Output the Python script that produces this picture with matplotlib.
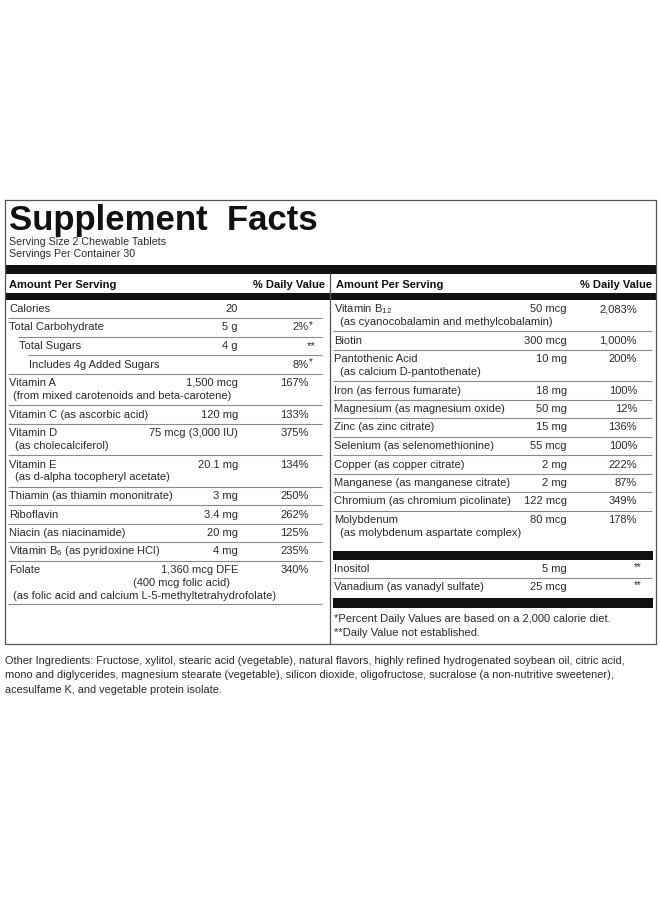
import matplotlib
matplotlib.use('Agg')
import matplotlib.pyplot as plt
from matplotlib import font_manager

names = {f.name for f in font_manager.fontManager.ttflist}
body = 'Liberation Sans Narrow' if 'Liberation Sans Narrow' in names else 'Liberation Sans'
plt.rcParams['font.family'] = [body, 'DejaVu Sans']
plt.rcParams['mathtext.fontset'] = 'custom'
plt.rcParams['mathtext.rm'] = body
plt.rcParams['mathtext.it'] = body

TXT = '#2b2b2b'
GRID = '#8a8a8a'
FS = 8.0

# ---- data ----
serving = ["Serving Size 2 Chewable Tablets", "Servings Per Container 30"]

left_names = ["Calories", "Total Carbohydrate", "Total Sugars", "Includes 4g Added Sugars",
              "Vitamin A", "Vitamin C (as ascorbic acid)", "Vitamin D", "Vitamin E",
              "Thiamin (as thiamin mononitrate)", "Riboflavin", "Niacin (as niacinamide)",
              "Vitamin B$_6$ (as pyridoxine HCl)", "Folate"]
left_amounts = ["20", "5 g", "4 g", "", "1,500 mcg", "120 mg", "75 mcg (3,000 IU)", "20.1 mg",
                "3 mg", "3.4 mg", "20 mg", "4 mg", "1,360 mcg DFE"]
left_dv = ["", "2%*", "**", "8%*", "167%", "133%", "375%", "134%", "250%", "262%", "125%", "235%", "340%"]
left_indent = [0, 0, 1, 2, 0, 0, 0, 0, 0, 0, 0, 0, 0]
left_sub = [[], [], [], [], ["(from mixed carotenoids and beta-carotene)"], [],
            ["(as cholecalciferol)"], ["(as d-alpha tocopheryl acetate)"], [], [], [], [],
            ["(400 mcg folic acid)", "(as folic acid and calcium L-5-methyltetrahydrofolate)"]]

right_names = ["Vitamin B$_{12}$", "Biotin", "Pantothenic Acid", "Iron (as ferrous fumarate)",
               "Magnesium (as magnesium oxide)", "Zinc (as zinc citrate)",
               "Selenium (as selenomethionine)", "Copper (as copper citrate)",
               "Manganese (as manganese citrate)", "Chromium (as chromium picolinate)",
               "Molybdenum"]
right_amounts = ["50 mcg", "300 mcg", "10 mg", "18 mg", "50 mg", "15 mg", "55 mcg", "2 mg",
                 "2 mg", "122 mcg", "80 mcg"]
right_dv = ["2,083%", "1,000%", "200%", "100%", "12%", "136%", "100%", "222%", "87%", "349%", "178%"]
right_sub = [["(as cyanocobalamin and methylcobalamin)"], [], ["(as calcium D-pantothenate)"],
             [], [], [], [], [], [], [], ["(as molybdenum aspartate complex)"]]

other_names = ["Inositol", "Vanadium (as vanadyl sulfate)"]
other_amounts = ["5 mg", "25 mcg"]
other_dv = ["**", "**"]

footnotes = ["*Percent Daily Values are based on a 2,000 calorie diet.", "**Daily Value not established."]
ingredients = [
    "Other Ingredients: Fructose, xylitol, stearic acid (vegetable), natural flavors, highly refined hydrogenated soybean oil, citric acid,",
    "mono and diglycerides, magnesium stearate (vegetable), silicon dioxide, oligofructose, sucralose (a non-nutritive sweetener),",
    "acesulfame K, and vegetable protein isolate.",
]

# ---- layout ----
fig = plt.figure(figsize=(6.6, 9), dpi=100)
ax = fig.add_axes([0, 0, 1, 1])
ax.set_xlim(0, 660)
ax.set_ylim(900, 0)
ax.axis('off')

def hl(x0, x1, y, lw=0.8, c=GRID):
    ax.plot([x0, x1], [y, y], color=c, lw=lw, solid_capstyle='butt')

def bar(x0, x1, y0, y1):
    ax.fill_between([x0, x1], y0, y1, color='#111111', lw=0)

# box
ax.plot([5, 656, 656, 5, 5], [200, 200, 644, 644, 200], color='#555555', lw=0.9)
ax.plot([330, 330], [273, 644], color='#555555', lw=0.9)

ax.text(9, 230, "Supplement  Facts", fontsize=25, fontweight='bold',
        family=['Liberation Sans', 'DejaVu Sans'], color='#111111', va='baseline')
for i, s in enumerate(serving):
    ax.text(9, 242 + 12 * i, s, fontsize=FS - 0.3, color=TXT, va='center')

bar(5, 656, 265, 274)
for x0, x1 in [(9, 325), (336, 652)]:
    ax.text(x0, 285, "Amount Per Serving", fontsize=FS, fontweight='bold', color='#111111', va='center')
    ax.text(x1, 285, "% Daily Value", fontsize=FS, fontweight='bold', color='#111111', va='center', ha='right')
bar(5, 656, 293, 300)

STEP, SUB = 18.5, 14.5

def dv_text(x_pct, y, s):
    if s.endswith('*'):
        ax.text(x_pct + (7 if s == '**' else 0), y, s.rstrip('*') if s != '**' else s,
                fontsize=FS, color=TXT, va='center', ha='right')
        if s != '**':
            ax.text(x_pct, y - 2, '*', fontsize=FS - 1, color=TXT, va='center', ha='left')
    else:
        ax.text(x_pct, y, s, fontsize=FS, color=TXT, va='center', ha='right')

def column(names_, amts, dvs, subs, indents, x0, x1, x_amt, x_pct, y):
    for i in range(len(names_)):
        ax.text(x0 + 10 * indents[i], y, names_[i], fontsize=FS, color=TXT, va='center')
        ax.text(x_amt, y, amts[i], fontsize=FS, color=TXT, va='center', ha='right')
        dv_text(x_pct, y, dvs[i])
        yy = y
        for j, s in enumerate(subs[i]):
            yy += SUB - 1.5
            if len(s) > 40:
                ax.text(x0 + 4, yy, s, fontsize=FS, color=TXT, va='center')
            elif i == len(names_) - 1 and j == 0 and x0 < 100:
                ax.text(x_amt - 8, yy, s, fontsize=FS, color=TXT, va='center', ha='right')
            else:
                ax.text(x0 + 6, yy, s, fontsize=FS, color=TXT, va='center')
        yline = yy + 9
        nxt = indents[i + 1] if i + 1 < len(indents) else 0
        if i + 1 < len(names_):
            hl(x0 - 1 + 10 * nxt, x1, yline)
        y = yline + 9.5
    return yline

column(left_names, left_amounts, left_dv, left_sub, left_indent, 9, 322, 238, 309, 309)
hl(8, 322, 604)
column(right_names, right_amounts, right_dv, right_sub, [0] * len(right_names), 334, 652, 567, 637, 309)

bar(333, 653, 551, 560)
for i in range(len(other_names)):
    y = 569 + STEP * i
    ax.text(334, y, other_names[i], fontsize=FS, color=TXT, va='center')
    ax.text(567, y, other_amounts[i], fontsize=FS, color=TXT, va='center', ha='right')
    ax.text(642, y - 2, other_dv[i], fontsize=FS - 1, color=TXT, va='center', ha='right')
    if i == 0:
        hl(333, 652, y + 9)
bar(333, 653, 598, 608)
for i, s in enumerate(footnotes):
    ax.text(334, 619 + 13.5 * i, s, fontsize=FS, color=TXT, va='center')

for i, s in enumerate(ingredients):
    ax.text(5, 661 + 14.5 * i, s, fontsize=7.9, color=TXT, va='center')

fig.savefig("out.png", dpi=100, facecolor='white')
